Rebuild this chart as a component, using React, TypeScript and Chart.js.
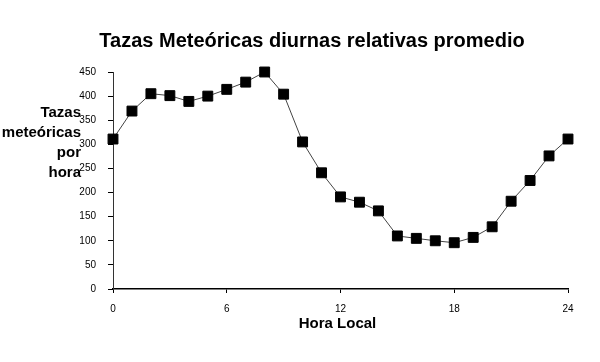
import React, { useEffect, useRef } from "react";
import { Chart, registerables } from "chart.js";

Chart.register(...registerables);

const chartTitle = "Tazas Meteóricas diurnas relativas promedio";
const yTitleLines = ["Tazas", "meteóricas", "por", "hora"];
const xTitle = "Hora Local";
const hours = [0, 1, 2, 3, 4, 5, 6, 7, 8, 9, 10, 11, 12, 13, 14, 15, 16, 17, 18, 19, 20, 21, 22, 23, 24];
const rates = [311, 369, 405, 401, 389, 400, 414, 429, 450, 404, 305, 241, 191, 180, 162, 110, 105, 100, 96, 107, 129, 182, 225, 276, 311];
const xTicks = [0, 6, 12, 18, 24];
const yMin = 0;
const yMax = 450;
const yStep = 50;

const FONT = "'Liberation Sans', Arial, Helvetica, sans-serif";

const textPlugin = {
  id: "customText",
  afterDraw(chart: any) {
    const ctx = chart.ctx;
    const area = chart.chartArea;
    ctx.save();
    ctx.fillStyle = "#000";
    // main title
    ctx.font = `bold 20px ${FONT}`;
    ctx.textAlign = "center";
    ctx.textBaseline = "alphabetic";
    ctx.fillText(chartTitle, 312, 47);
    // y title
    ctx.font = `bold 15px ${FONT}`;
    ctx.textAlign = "right";
    const baseY = 117;
    yTitleLines.forEach((line, i) => {
      ctx.fillText(line, 81, baseY + i * 20);
    });
    // x title
    ctx.textAlign = "center";
    ctx.fillText(xTitle, (area.left + area.right) / 2 - 3, 328);
    ctx.restore();
  },
};

export default function App() {
  const canvasRef = useRef<HTMLCanvasElement | null>(null);

  useEffect(() => {
    const canvas = canvasRef.current;
    if (!canvas) return;
    const chart = new Chart(canvas, {
      type: "line",
      data: {
        datasets: [
          {
            data: hours.map((h, i) => ({ x: h, y: rates[i] })),
            borderColor: "#444",
            borderWidth: 1,
            pointStyle: "rect",
            pointRadius: 7,
            pointBackgroundColor: "#000",
            pointBorderColor: "#000",
            pointBorderWidth: 1,
            clip: false as any,
            tension: 0,
          },
        ],
      },
      options: {
        responsive: false,
        animation: false,
        devicePixelRatio: 1,
        layout: { padding: { top: 72, right: 32, left: 0, bottom: 0 } },
        plugins: {
          legend: { display: false },
          title: { display: false },
          tooltip: { enabled: false },
        },
        scales: {
          x: {
            type: "linear",
            min: 0,
            max: 24,
            afterFit(scale: any) {
              scale.height = 73;
            },
            afterBuildTicks(scale: any) {
              scale.ticks = xTicks.map((v) => ({ value: v }));
            },
            grid: {
              display: true,
              drawOnChartArea: false,
              drawTicks: true,
              tickLength: 4,
              color: "#000",
            },
            border: { display: true, color: "#000", width: 1.5 },
            ticks: {
              color: "#000",
              font: { family: FONT, size: 10 },
              padding: 10,
              maxRotation: 0,
              autoSkip: false,
            },
          },
          y: {
            type: "linear",
            min: yMin,
            max: yMax,
            afterFit(scale: any) {
              scale.width = 113;
            },
            grid: {
              display: true,
              drawOnChartArea: false,
              drawTicks: true,
              tickLength: 5,
              color: "#000",
            },
            border: { display: true, color: "#333", width: 1 },
            ticks: {
              stepSize: yStep,
              color: "#000",
              font: { family: FONT, size: 10 },
              padding: 12,
            },
          },
        },
      },
      plugins: [textPlugin],
    });
    return () => chart.destroy();
  }, []);

  return (
    <div style={{ position: "absolute", left: 0, top: 0, width: 600, height: 362, background: "#fff" }}>
      <canvas ref={canvasRef} width={600} height={362} />
    </div>
  );
}
